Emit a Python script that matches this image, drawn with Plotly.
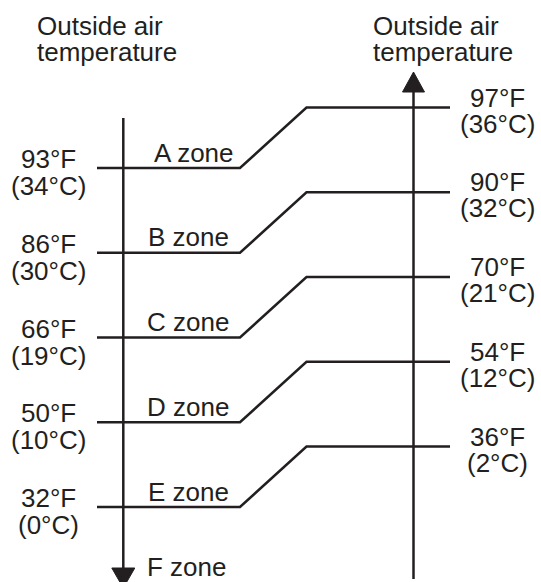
import plotly.graph_objects as go

# ---- data ----
zones = ["A zone", "B zone", "C zone", "D zone", "E zone"]
last_zone = "F zone"
lower_f = [93, 86, 66, 50, 32]
lower_c = [34, 30, 19, 10, 0]
upper_f = [97, 90, 70, 54, 36]
upper_c = [36, 32, 21, 12, 2]
title_lines = ["Outside air", "temperature"]

# ---- layout constants (pixel space) ----
W, H = 541, 582
INK = "#231f20"
FONT = "Liberation Sans, Arial, sans-serif"
FS = 26
LW = 2.5
left_axis_x = 123.3
right_axis_x = 413.5
row0 = 168.0
row_step = 84.75
rise = 60.5
x_start, x_knee1, x_knee2, x_end = 97, 240, 306.5, 450

fig = go.Figure()

annotations = []

def txt(x, y, s, xanchor="center"):
    annotations.append(dict(x=x, y=y, text=s, showarrow=False, xanchor=xanchor,
                            yanchor="middle", borderpad=0,
                            font=dict(family=FONT, size=FS, color=INK)))

for i, z in enumerate(zones):
    yl = row0 + i * row_step
    yr = yl - rise
    fig.add_trace(go.Scatter(x=[x_start, x_knee1, x_knee2, x_end], y=[yl, yl, yr, yr],
                             mode="lines", line=dict(color=INK, width=LW),
                             hoverinfo="skip", showlegend=False))
    zx = 188 + (6 if i == 0 else 0)
    txt(zx, yl - 15.5, z)
    txt(48.5, yl - 9, f"{lower_f[i]}°F")
    txt(48.5, yl + 18, f"({lower_c[i]}°C)")
    txt(497.5, yr - 10, f"{upper_f[i]}°F")
    txt(497.5, yr + 16, f"({upper_c[i]}°C)")

txt(187, 567, last_zone)

# axes with arrows
fig.add_trace(go.Scatter(x=[left_axis_x, left_axis_x], y=[118, 570], mode="lines",
                         line=dict(color=INK, width=LW), hoverinfo="skip", showlegend=False))
fig.add_trace(go.Scatter(x=[left_axis_x - 11.5, left_axis_x + 11.5, left_axis_x, left_axis_x - 11.5],
                         y=[568, 568, 588, 568], mode="lines", fill="toself",
                         fillcolor=INK, line=dict(color=INK, width=1),
                         hoverinfo="skip", showlegend=False))
fig.add_trace(go.Scatter(x=[right_axis_x, right_axis_x], y=[579, 90], mode="lines",
                         line=dict(color=INK, width=LW), hoverinfo="skip", showlegend=False))
fig.add_trace(go.Scatter(x=[right_axis_x - 11, right_axis_x + 11, right_axis_x, right_axis_x - 11],
                         y=[92, 92, 72, 92], mode="lines", fill="toself",
                         fillcolor=INK, line=dict(color=INK, width=1),
                         hoverinfo="skip", showlegend=False))

# titles
for tx in (36, 372):
    txt(tx, 26, title_lines[0], xanchor="left")
    txt(tx, 51.5, title_lines[1], xanchor="left")

fig.update_layout(
    width=W, height=H, margin=dict(l=0, r=0, t=0, b=0),
    paper_bgcolor="white", plot_bgcolor="white",
    xaxis=dict(range=[0, W], visible=False, fixedrange=True),
    yaxis=dict(range=[H, 0], visible=False, fixedrange=True),
    annotations=annotations, showlegend=False,
)

fig.write_html("out.html", config={"displayModeBar": False},
               post_script="document.body.style.margin='0px';document.body.style.overflow='hidden';")
